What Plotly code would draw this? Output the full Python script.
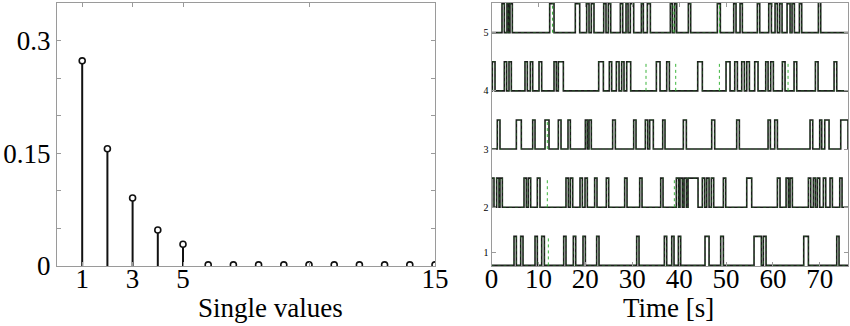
import plotly.graph_objects as go

# ---------------- data ----------------
sv_index = list(range(1, 16))
sv_values = [0.273, 0.156, 0.0905, 0.048, 0.029, 0.0015, 0.0015, 0.0015,
             0.0015, 0.0015, 0.0015, 0.0015, 0.0015, 0.0015, 0.0015]
sv_tickvals = [1, 3, 5, 10, 15]
sv_ticktext = ["1", "3", "5", "", "15"]
sv_yticks = [0, 0.05, 0.1, 0.15, 0.2, 0.25, 0.3]
sv_yticktext = ["0", "", "", "0.15", "", "", "0.3"]

T_END = 76.0
PULSE_H = 0.5

row1_pulses = [(4.80, 5.30), (6.22, 6.72), (9.28, 9.77), (10.70, 11.27), (15.39, 15.88),
               (17.45, 17.95), (19.51, 20.01), (22.42, 22.92), (30.95, 31.45), (36.85, 37.35),
               (38.42, 38.91), (39.84, 40.33), (45.52, 46.38), (48.86, 49.43), (55.97, 57.53),
               (57.96, 58.53), (66.56, 67.56), (73.60, 74.09)]
row2_pulses = [(0.04, 0.53), (1.10, 1.60), (1.81, 2.31), (6.93, 7.43), (7.85, 8.35),
               (9.77, 10.34), (15.88, 16.38), (16.81, 17.31), (18.87, 19.37), (19.94, 20.43),
               (21.99, 22.49), (24.48, 24.98), (28.39, 28.89), (31.59, 32.09), (36.07, 36.57),
               (39.41, 39.91), (40.19, 40.69), (41.05, 41.54), (41.90, 44.03), (44.95, 45.45),
               (45.88, 46.38), (46.87, 47.37), (49.43, 49.93), (54.41, 55.47), (60.95, 61.51),
               (62.80, 63.29), (63.65, 64.14), (67.56, 68.05), (68.62, 69.05), (69.47, 69.97),
               (70.75, 71.25), (72.17, 72.67), (74.24, 74.73)]
row3_pulses = [(1.24, 1.81), (5.30, 6.36), (8.78, 9.28), (11.41, 12.26), (14.25, 14.82),
               (16.31, 16.81), (20.01, 20.43), (20.79, 21.28), (25.83, 26.40), (30.31, 30.81),
               (32.80, 33.30), (33.72, 34.50), (36.50, 36.99), (40.90, 41.54), (46.94, 47.58),
               (52.27, 52.84), (58.96, 59.45), (60.38, 60.95), (67.91, 68.48), (69.97, 70.40),
               (71.04, 71.96), (74.45, 76.0)]
row4_pulses = [(0.18, 0.75), (2.74, 3.23), (3.73, 4.23), (7.14, 7.64), (8.28, 8.78),
               (10.13, 10.70), (13.33, 13.82), (14.25, 15.32), (22.85, 23.85), (25.12, 25.62),
               (26.62, 27.19), (27.75, 28.25), (28.82, 29.67), (35.15, 35.93), (37.35, 37.92),
               (43.96, 44.95), (50.00, 50.85), (51.85, 52.42), (53.34, 53.91), (54.41, 54.98),
               (56.11, 56.82), (58.46, 58.96), (59.52, 60.09), (62.01, 62.58), (64.50, 65.07),
               (69.05, 69.62), (73.03, 73.60)]
row5_pulses = [(2.24, 2.74), (3.30, 3.66), (3.94, 4.44), (12.40, 13.33), (17.87, 18.80),
               (20.29, 20.79), (21.28, 21.85), (23.92, 24.41), (24.91, 25.41), (27.47, 27.97),
               (28.68, 29.11), (29.60, 30.31), (31.95, 32.37), (33.23, 33.87), (38.13, 38.56),
               (39.05, 39.48), (41.97, 42.46), (48.15, 48.79), (51.63, 52.13), (52.99, 53.48),
               (56.68, 57.18), (59.10, 59.67), (60.45, 60.95), (61.44, 61.94), (63.01, 63.65),
               (64.07, 64.57), (65.64, 66.13), (69.69, 70.18)]

row1_spikes = [12.12]
row2_spikes = [11.90, 38.98]
row3_spikes = [11.90]
row4_spikes = [32.94, 39.27, 48.58, 63.22]
row5_spikes = [13.0, 38.9, 48.6]

rows = [(1, row1_pulses, row1_spikes), (2, row2_pulses, row2_spikes),
        (3, row3_pulses, row3_spikes), (4, row4_pulses, row4_spikes),
        (5, row5_pulses, row5_spikes)]

time_ticks = [0, 10, 20, 30, 40, 50, 60, 70]
row_tickvals = [1.22, 2, 3, 4, 5]
row_ticktext = ["1", "2", "3", "4", "5"]

# ---------------- figure ----------------
FONT = "Liberation Serif"
AX = "#9a9a9a"
fig = go.Figure()

# stems
xs, ys = [], []
for i, v in zip(sv_index, sv_values):
    xs += [i, i, None]
    ys += [0, v, None]
fig.add_trace(go.Scatter(x=xs, y=ys, mode="lines", line=dict(color="#111111", width=2),
                         xaxis="x", yaxis="y", hoverinfo="skip"))
fig.add_trace(go.Scatter(x=sv_index, y=sv_values, mode="markers",
                         marker=dict(symbol="circle", size=6, color="white",
                                     line=dict(color="#111111", width=1.6)),
                         xaxis="x", yaxis="y"))

# pulse trains
for base, pulses, spikes in rows:
    tx, ty = [0.0], [base]
    for on, off in pulses:
        tx += [on, off]
        ty += [base + PULSE_H, base]
    tx.append(T_END)
    ty.append(ty[-1])
    fig.add_trace(go.Scatter(x=tx, y=ty, mode="lines", line=dict(shape="hv", color="#1c1c1c", width=1.6),
                             xaxis="x2", yaxis="y2", hoverinfo="skip"))
    fig.add_trace(go.Scatter(x=tx, y=ty, mode="lines", opacity=0.55,
                             line=dict(shape="hv", color="#2e8b2e", width=0.8, dash="dot"),
                             xaxis="x2", yaxis="y2", hoverinfo="skip"))
    sx, sy = [], []
    for s in spikes:
        sx += [s, s, None]
        sy += [base, base + PULSE_H, None]
    fig.add_trace(go.Scatter(x=sx, y=sy, mode="lines",
                             line=dict(color="#3cb43c", width=1, dash="dot"),
                             xaxis="x2", yaxis="y2", hoverinfo="skip"))

ydom = [1 - 266 / 326, 1 - 3 / 326]
common = dict(showline=True, linecolor=AX, linewidth=1, mirror="ticks", ticks="inside",
              ticklen=4, tickcolor=AX, showgrid=False, zeroline=False, automargin=False,
              tickfont=dict(family=FONT, size=27, color="black"))

fig.update_layout(
    width=850, height=326, margin=dict(l=0, r=0, t=0, b=0, pad=0),
    paper_bgcolor="white", plot_bgcolor="white", showlegend=False,
    font=dict(family=FONT, color="black"),
    xaxis=dict(domain=[57 / 850, 435 / 850], range=[0, 15], anchor="y", ticklabelstandoff=-11,
               tickmode="array", tickvals=sv_tickvals, ticktext=sv_ticktext, **common),
    yaxis=dict(domain=ydom, range=[0, 0.35], anchor="x",
               tickmode="array", tickvals=sv_yticks, ticktext=sv_yticktext, **common),
    xaxis2=dict(domain=[491.5 / 850, 848 / 850], range=[0, T_END], anchor="y2", ticklabelstandoff=-11,
                tickmode="array", tickvals=time_ticks, **common),
    yaxis2=dict(domain=ydom, range=[0.99, 5.51], anchor="x2",
                tickmode="array", tickvals=row_tickvals, ticktext=row_ticktext,
                **{**common, "tickfont": dict(family=FONT, size=10, color="black")}),
    annotations=[
        dict(text="Single values", x=270 / 850, y=1 / 326, xref="paper", yref="paper",
             showarrow=False, font=dict(family=FONT, size=27, color="black"),
             xanchor="center", yanchor="bottom"),
        dict(text="Time [s]", x=668 / 850, y=1 / 326, xref="paper", yref="paper",
             showarrow=False, font=dict(family=FONT, size=27, color="black"),
             xanchor="center", yanchor="bottom"),
    ],
)

fig.write_html("out.html", config={"displayModeBar": False},
               post_script="document.body.style.margin='0';document.body.style.padding='0';")
